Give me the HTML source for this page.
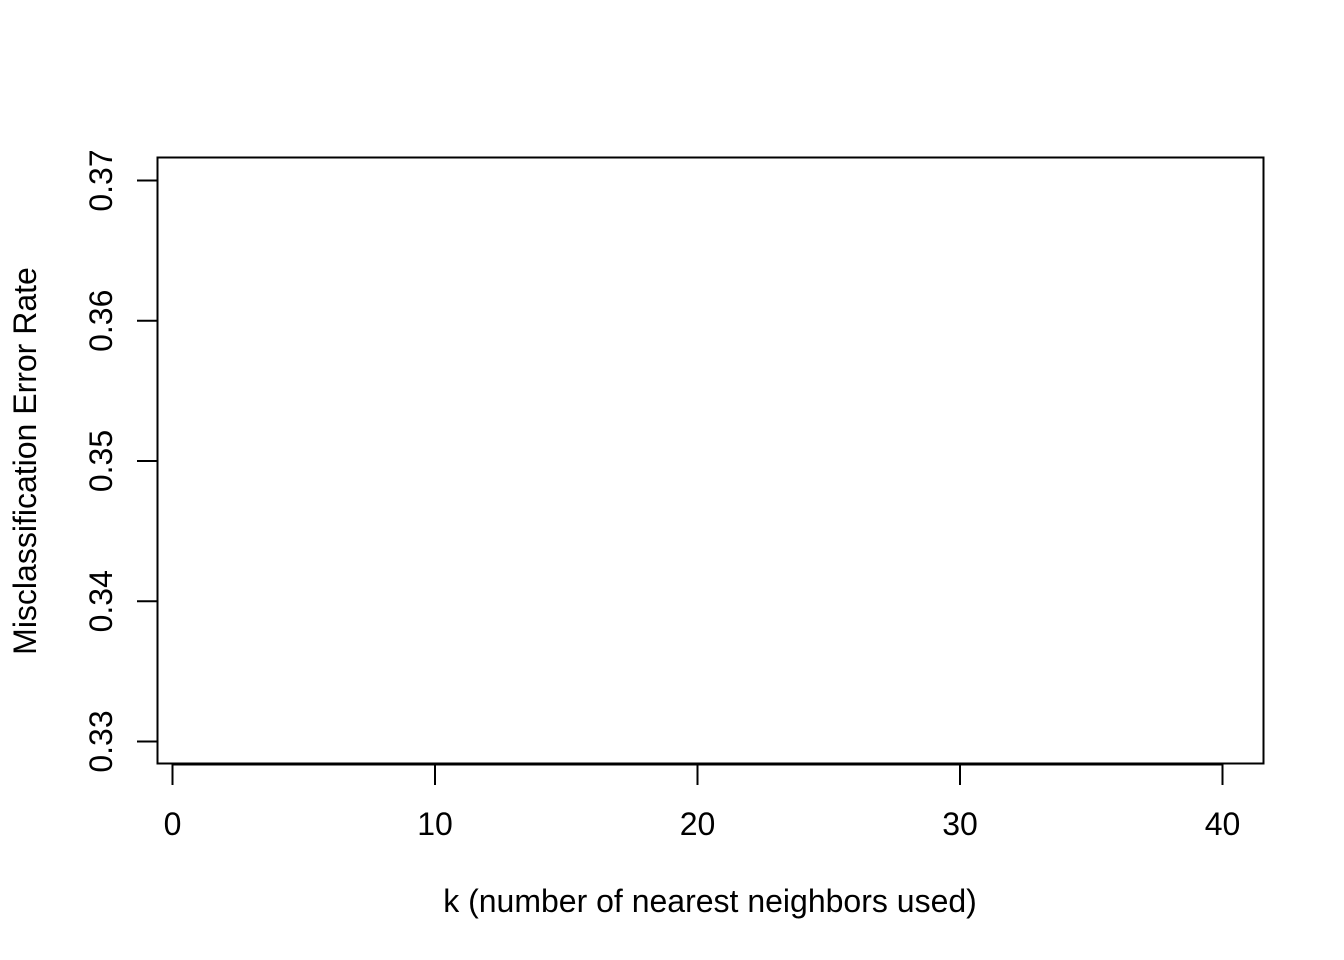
<!DOCTYPE html>
<html>
<head>
<meta charset="utf-8">
<style>
  html,body{margin:0;padding:0;background:#fff;}
  svg{display:block;}
  text{font-family:"Liberation Sans",Arial,sans-serif;font-size:32px;fill:#000;}
</style>
</head>
<body>
<svg id="chart" width="1344" height="960" viewBox="0 0 1344 960">
  <rect x="0" y="0" width="1344" height="960" fill="#fff"/>
  <rect x="157.5" y="157.5" width="1106" height="606" fill="none" stroke="#000" stroke-width="2"/>
  <g id="xaxis"></g>
  <g id="yaxis"></g>
  <g id="series"></g>
  <text x="710" y="912" text-anchor="middle">k (number of nearest neighbors used)</text>
  <text transform="translate(36,461) rotate(-90)" text-anchor="middle">Misclassification Error Rate</text>
</svg>
<script>
const xTicks = [0, 10, 20, 30, 40];
const yTicks = [0.33, 0.34, 0.35, 0.36, 0.37];
const yTickLabels = ["0.33", "0.34", "0.35", "0.36", "0.37"];
const kValues = [];
const errorRates = [];

const NS = "http://www.w3.org/2000/svg";
function xs(v){ return 172.5 + (v - 0) * (1222.5 - 172.5) / 40; }
function ys(v){ return 741.5 - (v - 0.33) * (741.5 - 180.5) / 0.04; }
function mk(tag, attrs, parent){
  const e = document.createElementNS(NS, tag);
  for (const k in attrs) e.setAttribute(k, attrs[k]);
  parent.appendChild(e);
  return e;
}
const xa = document.getElementById('xaxis');
const ya = document.getElementById('yaxis');
const sg = document.getElementById('series');

const xl = mk('line', {x1: xs(xTicks[0]), x2: xs(xTicks[xTicks.length-1]), y1: 764.5, y2: 764.5, stroke: '#000', 'stroke-width': 2}, xa);


xTicks.forEach(t => {
  const l = mk('line', {x1: xs(t), x2: xs(t), y1: 764.5, y2: 785, stroke: '#000', 'stroke-width': 2}, xa);
  
  
  const tx = mk('text', {x: xs(t), y: 835, 'text-anchor': 'middle'}, xa);
  tx.textContent = String(t);
  
  
});

const yl = mk('line', {x1: 157.5, x2: 157.5, y1: ys(yTicks[0]), y2: ys(yTicks[yTicks.length-1]), stroke: '#000', 'stroke-width': 2}, ya);


yTicks.forEach((t, i) => {
  const l = mk('line', {x1: 137, x2: 157.5, y1: ys(t), y2: ys(t), stroke: '#000', 'stroke-width': 2}, ya);
  
  
  const tx = mk('text', {transform: 'translate(112,' + ys(t) + ') rotate(-90)', 'text-anchor': 'middle'}, ya);
  tx.textContent = yTickLabels[i];
  
  
});

kValues.forEach((k, i) => {
  const c = mk('circle', {cx: xs(k), cy: ys(errorRates[i]), r: 5, fill: 'none', stroke: '#000', 'stroke-width': 2}, sg);
  
  
});
</script>
</body>
</html>
